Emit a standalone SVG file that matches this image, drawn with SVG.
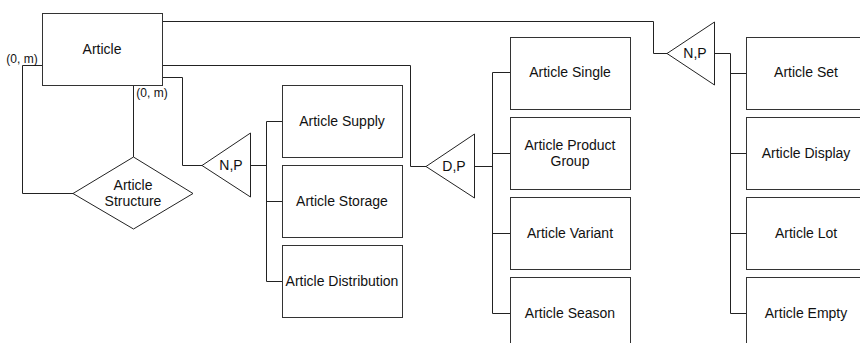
<svg xmlns="http://www.w3.org/2000/svg" width="860" height="343" viewBox="0 0 860 343">
<style>
.box{fill:#fff;stroke:#333;stroke-width:1}
.tri{fill:#fff;stroke:#222;stroke-width:1}
.ln{fill:none;stroke:#222;stroke-width:1}
text{font-family:"Liberation Sans",Arial,sans-serif;font-size:14px;fill:#111;text-anchor:middle}
.small{font-size:12px}
</style>
<rect width="860" height="343" fill="#fff"/>
<g id="connectors">
<polyline class="ln" points="162,21.5 653.5,21.5 653.5,53.5 667,53.5"/>
<polyline class="ln" points="162,65.5 410.5,65.5 410.5,166.5 426,166.5"/>
<polyline class="ln" points="162,77.5 182.5,77.5 182.5,165.5 202,165.5"/>
<polyline class="ln" points="42,65.5 22.5,65.5 22.5,193.5 73,193.5"/>
<line class="ln" x1="133.5" y1="85" x2="133.5" y2="157"/>
<polyline class="ln" points="250,165.5 266.5,165.5"/>
<polyline class="ln" points="266.5,121.5 266.5,281.5"/>
<line class="ln" x1="266.5" y1="121.5" x2="282" y2="121.5"/>
<line class="ln" x1="266.5" y1="201.5" x2="282" y2="201.5"/>
<line class="ln" x1="266.5" y1="281.5" x2="282" y2="281.5"/>
<polyline class="ln" points="474,166.5 492.5,166.5"/>
<line class="ln" x1="492.5" y1="72.5" x2="492.5" y2="313.5"/>
<line class="ln" x1="492.5" y1="72.5" x2="510" y2="72.5"/>
<line class="ln" x1="492.5" y1="153.5" x2="510" y2="153.5"/>
<line class="ln" x1="492.5" y1="233.5" x2="510" y2="233.5"/>
<line class="ln" x1="492.5" y1="313.5" x2="510" y2="313.5"/>
<polyline class="ln" points="714,53.5 730.5,53.5 730.5,313.5"/>
<line class="ln" x1="730.5" y1="73.5" x2="746" y2="73.5"/>
<line class="ln" x1="730.5" y1="153.5" x2="746" y2="153.5"/>
<line class="ln" x1="730.5" y1="233.5" x2="746" y2="233.5"/>
<line class="ln" x1="730.5" y1="313.5" x2="746" y2="313.5"/>
<text class="small" x="22" y="63">(0, m)</text>
<text class="small" x="152" y="97">(0, m)</text>
</g>
<g id="article"><rect class="box" x="42.5" y="13.5" width="120" height="72"/><text x="102" y="54">Article</text></g>
<g id="article-structure"><polygon class="tri" points="73,193.5 133.5,157 193,193.5 133.5,229"/><text x="133" y="190">Article</text><text x="133" y="206">Structure</text></g>
<g id="np1"><polygon class="tri" points="202,165.5 250.5,133 250.5,197"/><text x="231" y="170">N,P</text></g>
<g id="article-supply"><rect class="box" x="282.5" y="85.5" width="120" height="72"/><text x="342" y="126">Article Supply</text></g>
<g id="article-storage"><rect class="box" x="282.5" y="165.5" width="120" height="72"/><text x="342" y="206">Article Storage</text></g>
<g id="article-distribution"><rect class="box" x="282.5" y="245.5" width="120" height="72"/><text x="342" y="286">Article Distribution</text></g>
<g id="dp"><polygon class="tri" points="426,166.5 474.5,134 474.5,198"/><text x="454" y="171">D,P</text></g>
<g id="article-single"><rect class="box" x="510.5" y="37.5" width="120" height="72"/><text x="570" y="77">Article Single</text></g>
<g id="article-product-group"><rect class="box" x="510.5" y="117.5" width="120" height="72"/><text x="570" y="150">Article Product</text><text x="570" y="166">Group</text></g>
<g id="article-variant"><rect class="box" x="510.5" y="197.5" width="120" height="72"/><text x="570" y="238">Article Variant</text></g>
<g id="article-season"><rect class="box" x="510.5" y="277.5" width="120" height="72"/><text x="570" y="318">Article Season</text></g>
<g id="np2"><polygon class="tri" points="667,53.5 714.5,22 714.5,85"/><text x="695" y="58">N,P</text></g>
<g id="article-set"><rect class="box" x="746.5" y="37.5" width="120" height="72"/><text x="806" y="77">Article Set</text></g>
<g id="article-display"><rect class="box" x="746.5" y="117.5" width="120" height="72"/><text x="806" y="158">Article Display</text></g>
<g id="article-lot"><rect class="box" x="746.5" y="197.5" width="120" height="72"/><text x="806" y="238">Article Lot</text></g>
<g id="article-empty"><rect class="box" x="746.5" y="277.5" width="120" height="72"/><text x="806" y="318">Article Empty</text></g>
</svg>
